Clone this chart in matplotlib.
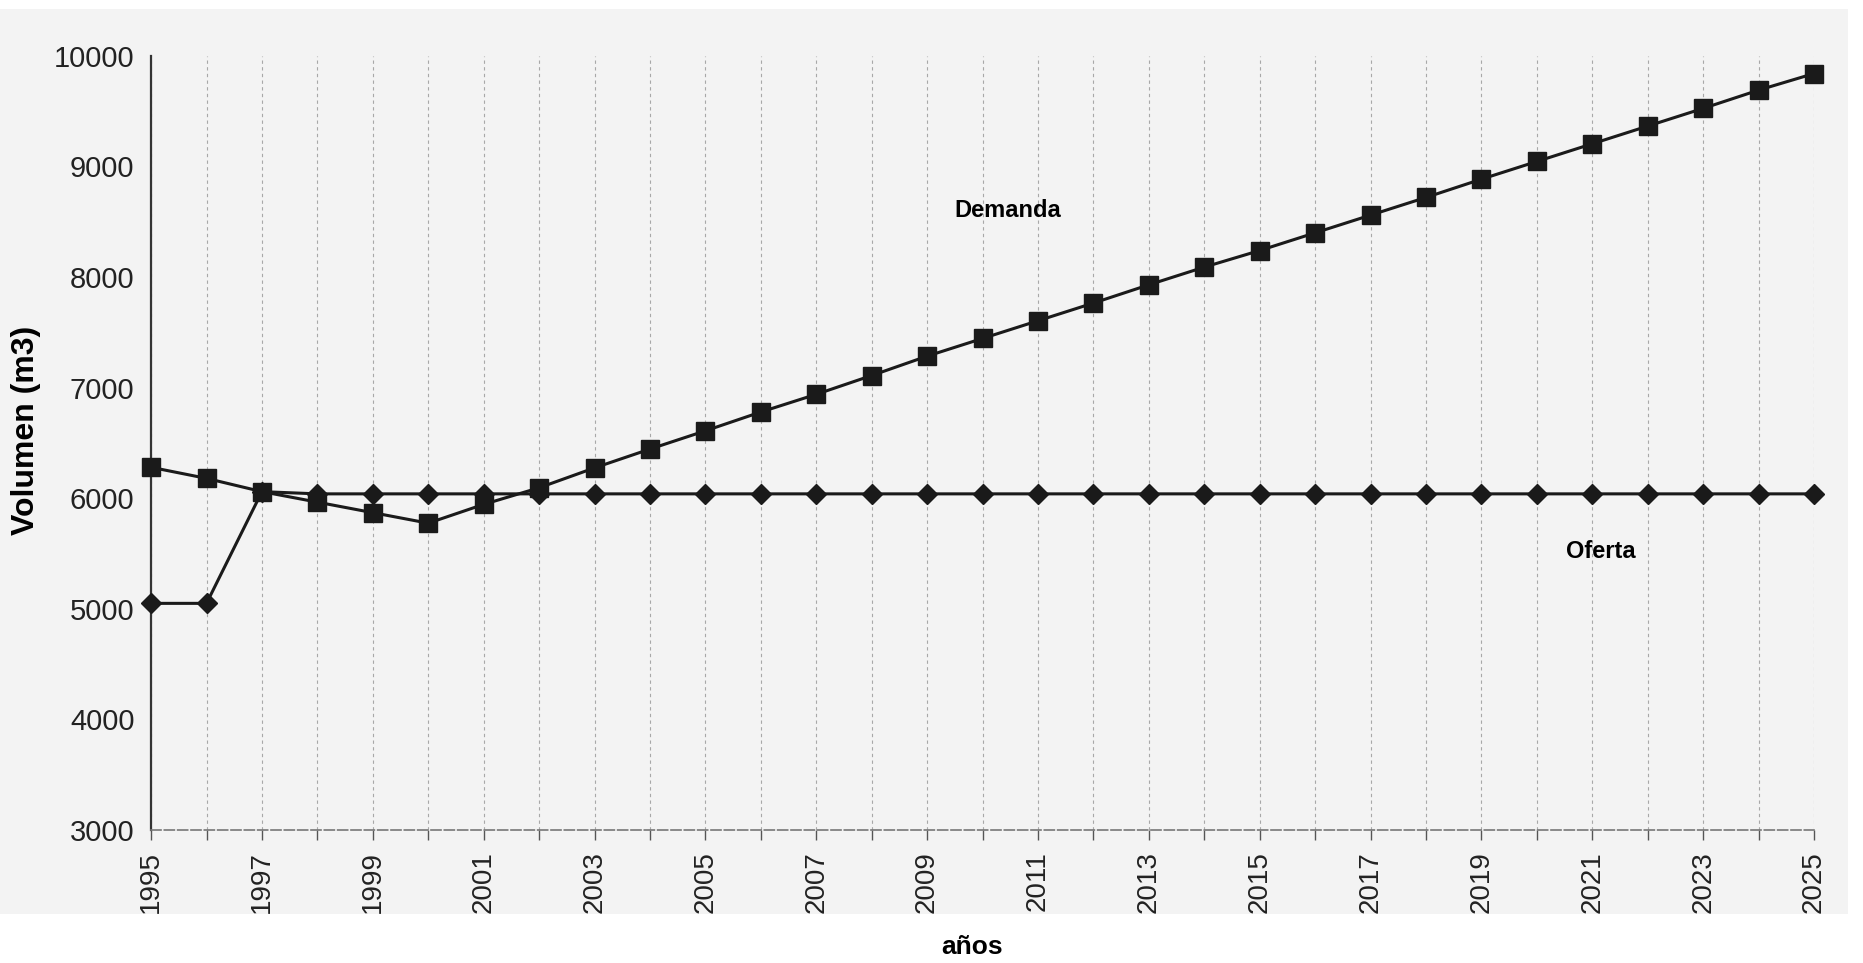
import matplotlib.pyplot as plt
from matplotlib.patches import Rectangle

plt.rcParams['font.family'] = ['Liberation Sans', 'DejaVu Sans']

years = list(range(1995, 2026))
demanda = [6280, 6180, 6060, 5965, 5870, 5775, 5945, 6095,
           6275, 6445, 6610, 6780, 6940, 7110, 7285, 7445,
           7605, 7765, 7930, 8090, 8240, 8400, 8560, 8720,
           8885, 9045, 9205, 9365, 9525, 9690, 9840]
oferta = [5050, 5050, 6060, 6040, 6040, 6040, 6040, 6040,
          6040, 6040, 6040, 6040, 6040, 6040, 6040, 6040,
          6040, 6040, 6040, 6040, 6040, 6040, 6040, 6040,
          6040, 6040, 6040, 6040, 6040, 6040, 6040]
yticks = [3000, 4000, 5000, 6000, 7000, 8000, 9000, 10000]

fig = plt.figure(figsize=(18.63, 9.63), dpi=100, facecolor='white')
# grey panel behind the plot area
fig.patches.append(Rectangle((0, 0.051), 0.992, 0.94, transform=fig.transFigure,
                             facecolor='#f3f3f3', edgecolor='none', zorder=-5))

ax = fig.add_axes([0.0811, 0.138, 0.8926, 0.804])
ax.set_facecolor('none')

for y in years:
    ax.axvline(y, color='#a8a8a8', lw=0.8, ls=(0, (3, 3)), zorder=1)

ax.plot(years, oferta, color='#1a1a1a', lw=2.2, marker='D', ms=10,
        markerfacecolor='#1a1a1a', markeredgecolor='#1a1a1a', zorder=3, clip_on=False)
ax.plot(years, demanda, color='#1a1a1a', lw=2.2, marker='s', ms=13,
        markerfacecolor='#1a1a1a', markeredgecolor='#1a1a1a', zorder=4, clip_on=False)

ax.set_xlim(1995, 2025)
ax.set_ylim(3000, 10000)
ax.set_yticks(yticks)
ax.set_yticklabels([str(v) for v in yticks], fontsize=21, color='#222222')
ax.set_xticks(years)
ax.set_xticklabels([str(y) if y % 2 == 1 else '' for y in years],
                   rotation=90, fontsize=20, color='#222222')
ax.tick_params(axis='y', length=0, pad=12)
ax.tick_params(axis='x', length=7, width=1, color='#555555', pad=8)

for s in ['top', 'right']:
    ax.spines[s].set_visible(False)
ax.spines['left'].set_color('#333333')
ax.spines['left'].set_linewidth(1.6)
ax.spines['bottom'].set_color('#777777')
ax.spines['bottom'].set_linewidth(1.2)
ax.spines['bottom'].set_linestyle((0, (6, 2)))

# axis titles placed in figure coordinates
fig.text(0.014, 0.553, 'Volumen (m3)', fontsize=23, fontweight='bold',
         rotation=90, ha='center', va='center')
fig.text(0.5217, 0.0166, 'años', fontsize=19, fontweight='bold',
         ha='center', va='center')

ax.text(2010.45, 8600, 'Demanda', fontsize=17, fontweight='bold', ha='center', va='center')
ax.text(2021.15, 5520, 'Oferta', fontsize=17, fontweight='bold', ha='center', va='center')

fig.savefig('out.png', dpi=100, facecolor='white')
